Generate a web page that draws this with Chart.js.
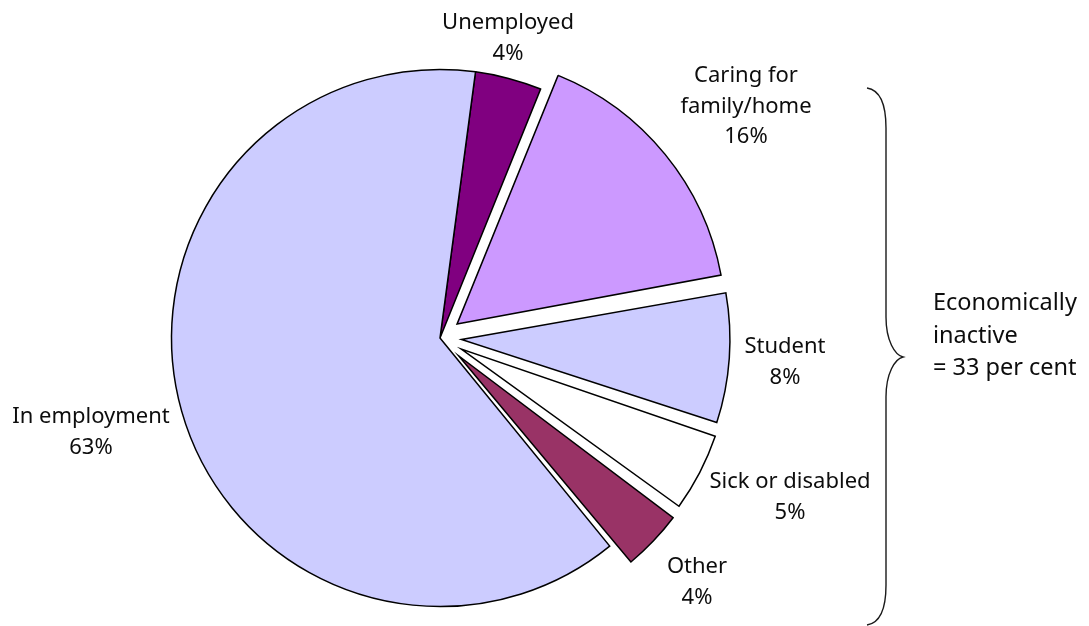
<!DOCTYPE html>
<html>
<head>
<meta charset="utf-8">
<script src="https://cdn.jsdelivr.net/npm/chart.js@4.4.1/dist/chart.umd.min.js"></script>
<style>
  html, body { margin: 0; padding: 0; background: #ffffff; }
  #wrap { width: 1089px; height: 626px; position: relative; }
</style>
</head>
<body>
<div id="wrap"><canvas id="c" width="1089" height="626"></canvas></div>
<script>
// Economic activity status, per cent
const categories = [
  ['Unemployed'],
  ['Caring for', 'family/home'],
  ['Student'],
  ['Sick or disabled'],
  ['Other'],
  ['In employment']
];
const shares = [4, 16, 8, 5, 4, 63];
const inactiveNote = ['Economically', 'inactive', '= 33 per cent'];

// Styling
const sliceColours = ['#800080', '#CC99FF', '#CCCCFF', '#FFFFFF', '#993366', '#CCCCFF'];
const sliceOffsets = [0, 88, 86, 96, 104, 0];   // Chart.js shifts an arc by offset/4
const FONT = '22px "Noto Sans", "Open Sans", sans-serif';
const NOTE_FONT = '23.5px "Noto Sans", "Open Sans", sans-serif';
const LINE_H = 30.5;
const NOTE_LINE_H = 32.5;
const TEXT_COLOUR = '#0d0d0d';

// Label block anchors: centre x and first baseline, relative to the pie centre
const labelAnchors = [
  [68, -309], [306, -256], [345, 15], [350, 150], [257, 235], [-349, 85]
];

// Keep exploded slices at the same radius as the rest of the pie
const equalRadius = {
  id: 'equalRadius',
  afterDatasetsUpdate(chart) {
    const meta = chart.getDatasetMeta(0);
    meta.data.forEach(arc => {
      const off = (arc.options.offset || 0) / 4;
      if (!off) return;
      const fix = 1 - Math.sin(Math.min(Math.PI, arc.circumference));
      arc.outerRadius -= off * fix;
    });
  }
};

// Slice labels, plus the brace and note grouping the inactive categories
const annotations = {
  id: 'annotations',
  afterDraw(chart) {
    const ctx = chart.ctx;
    const meta = chart.getDatasetMeta(0);
    const cx = meta.data[0].x, cy = meta.data[0].y;
    ctx.save();
    ctx.font = FONT;
    ctx.fillStyle = TEXT_COLOUR;
    ctx.textBaseline = 'alphabetic';
    ctx.textAlign = 'center';
    categories.forEach((lines, i) => {
      const [dx, dy] = labelAnchors[i];
      const all = lines.concat([shares[i] + '%']);
      all.forEach((t, k) => ctx.fillText(t, cx + dx, cy + dy + k * LINE_H));
    });

    // Curly brace
    const bx = cx + 446, tipX = cx + 463;
    const top = cy - 250, bottom = cy + 287, mid = cy + 19;
    ctx.strokeStyle = '#1a1a1a';
    ctx.lineWidth = 1.4;
    ctx.beginPath();
    ctx.moveTo(bx - 19, top);
    ctx.bezierCurveTo(bx - 6, top + 2, bx, top + 16, bx, top + 40);
    ctx.lineTo(bx, mid - 40);
    ctx.bezierCurveTo(bx, mid - 16, tipX - 8, mid - 2, tipX, mid);
    ctx.bezierCurveTo(tipX - 8, mid + 2, bx, mid + 16, bx, mid + 40);
    ctx.lineTo(bx, bottom - 40);
    ctx.bezierCurveTo(bx, bottom - 16, bx - 6, bottom - 2, bx - 19, bottom);
    ctx.stroke();

    ctx.font = NOTE_FONT;
    ctx.textAlign = 'left';
    inactiveNote.forEach((t, k) => ctx.fillText(t, cx + 493, cy - 28 + k * NOTE_LINE_H));
    ctx.restore();
  }
};

new Chart(document.getElementById('c'), {
  type: 'pie',
  data: {
    labels: categories,
    datasets: [{
      data: shares,
      backgroundColor: sliceColours,
      borderColor: '#000000',
      borderWidth: 1.5,
      borderJoinStyle: 'miter',
      offset: sliceOffsets
    }]
  },
  options: {
    responsive: false,
    animation: false,
    devicePixelRatio: 1,
    rotation: 7.6,
    radius: 268.5,
    layout: { padding: { left: 0, right: 209, top: 50, bottom: 0 } },
    plugins: {
      legend: { display: false },
      tooltip: { enabled: false }
    },
    events: []
  },
  plugins: [equalRadius, annotations]
});
</script>
</body>
</html>
